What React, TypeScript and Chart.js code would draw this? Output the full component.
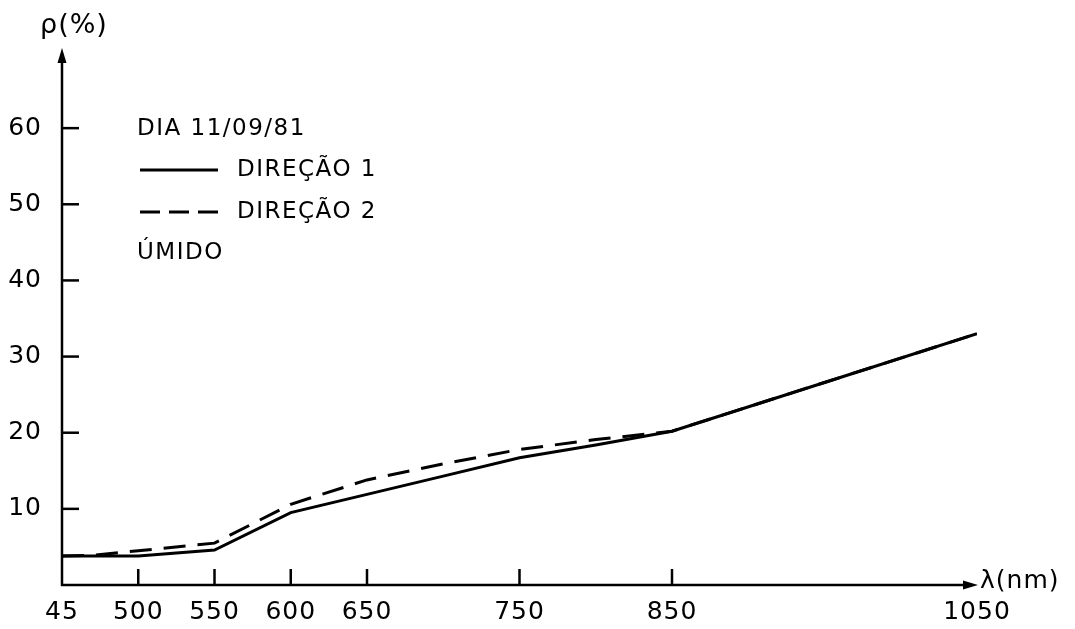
import React, { useEffect, useRef } from "react";
import { Chart, registerables } from "chart.js";

Chart.register(...registerables);

const wavelengths = [450, 500, 550, 600, 650, 700, 750, 800, 850, 950, 1050];
const direcao1 = [3.8, 3.8, 4.6, 9.5, 11.9, 14.3, 16.7, 18.4, 20.2, 26.6, 33.0];
const wavelengths2 = [450, 470, 500, 550, 600, 650, 700, 750, 800, 850, 950, 1050];
const direcao2 = [3.8, 3.9, 4.5, 5.5, 10.6, 13.8, 15.9, 17.8, 19.1, 20.2, 26.6, 33.0];
const xTickValues = [450, 500, 550, 600, 650, 750, 850, 1050];
const xTickLabels = ["45", "500", "550", "600", "650", "750", "850", "1050"];
const yTickValues = [10, 20, 30, 40, 50, 60];
const legendTitle = "DIA 11/09/81";
const seriesNames = ["DIREÇÃO 1", "DIREÇÃO 2"];
const legendNote = "ÚMIDO";
const yTitle = "ρ(%)";
const xTitle = "λ(nm)";

const FONT = "DejaVu Sans";

const axesPlugin = {
  id: "axesPlugin",
  beforeDraw(chart: any) {
    chart.ctx.letterSpacing = "1px";
  },
  afterDraw(chart: any) {
    const { ctx, chartArea } = chart;
    const xs = chart.scales.x;
    const ys = chart.scales.y;
    const x0 = xs.getPixelForValue(450);
    const y0 = ys.getPixelForValue(0);
    ctx.save();
    ctx.strokeStyle = "#000";
    ctx.fillStyle = "#000";
    ctx.lineWidth = 2.5;
    ctx.lineCap = "butt";
    // y axis
    const yTop = chartArea.top - 4;
    ctx.beginPath();
    ctx.moveTo(x0, y0 + 1);
    ctx.lineTo(x0, yTop + 12);
    ctx.stroke();
    ctx.beginPath();
    ctx.moveTo(x0, yTop);
    ctx.lineTo(x0 - 4.5, yTop + 15);
    ctx.lineTo(x0 + 4.5, yTop + 15);
    ctx.closePath();
    ctx.fill();
    // x axis
    const xEnd = xs.getPixelForValue(1050) + 1;
    ctx.beginPath();
    ctx.moveTo(x0 - 1, y0);
    ctx.lineTo(xEnd - 12, y0);
    ctx.stroke();
    ctx.beginPath();
    ctx.moveTo(xEnd, y0);
    ctx.lineTo(xEnd - 15, y0 - 4.5);
    ctx.lineTo(xEnd - 15, y0 + 4.5);
    ctx.closePath();
    ctx.fill();
    // ticks inward
    ctx.lineWidth = 2.5;
    xTickValues.forEach((v) => {
      if (v === 450 || v === 1050) return;
      const px = xs.getPixelForValue(v);
      ctx.beginPath();
      ctx.moveTo(px, y0);
      ctx.lineTo(px, y0 - 16);
      ctx.stroke();
    });
    yTickValues.forEach((v) => {
      const py = ys.getPixelForValue(v);
      ctx.beginPath();
      ctx.moveTo(x0, py);
      ctx.lineTo(x0 + 17, py);
      ctx.stroke();
    });
    // titles
    ctx.letterSpacing = "1px";
    ctx.font = `27px "${FONT}"`;
    ctx.textBaseline = "middle";
    ctx.textAlign = "left";
    ctx.fillText(yTitle, 40, 26);
    ctx.font = `25px "${FONT}"`;
    ctx.fillText(xTitle, xEnd + 2, y0 - 4);
    // legend
    ctx.letterSpacing = "1.5px";
    ctx.font = `23px "${FONT}"`;
    ctx.fillText(legendTitle, 137, 129);
    ctx.fillText(seriesNames[0], 237, 170);
    ctx.fillText(seriesNames[1], 237, 212);
    ctx.fillText(legendNote, 137, 253);
    ctx.lineWidth = 3;
    ctx.beginPath();
    ctx.moveTo(140, 170);
    ctx.lineTo(218, 170);
    ctx.stroke();
    ctx.setLineDash([20, 9]);
    ctx.beginPath();
    ctx.moveTo(140, 212);
    ctx.lineTo(218, 212);
    ctx.stroke();
    ctx.restore();
  },
};

export default function App() {
  const ref = useRef<HTMLCanvasElement | null>(null);
  useEffect(() => {
    if (!ref.current) return;
    const chart = new Chart(ref.current, {
      type: "line",
      data: {
        datasets: [
          {
            label: seriesNames[0],
            data: wavelengths.map((x, i) => ({ x, y: direcao1[i] })),
            borderColor: "#000",
            borderWidth: 3,
            pointRadius: 0,
            tension: 0,
            fill: false,
          },
          {
            label: seriesNames[1],
            data: wavelengths2.map((x, i) => ({ x, y: direcao2[i] })),
            borderColor: "#000",
            borderWidth: 3,
            borderDash: [22, 12],
            pointRadius: 0,
            tension: 0,
            fill: false,
          },
        ],
      },
      options: {
        animation: false,
        responsive: true,
        maintainAspectRatio: false,
        layout: { padding: { top: 52, right: 98, left: 0, bottom: 0 } },
        plugins: {
          legend: { display: false },
          tooltip: { enabled: false },
        },
        scales: {
          x: {
            type: "linear",
            min: 450,
            max: 1050,
            grid: { display: false, drawTicks: false },
            border: { display: false },
            afterBuildTicks: (scale: any) => {
              scale.ticks = xTickValues.map((v) => ({ value: v }));
            },
            afterFit: (scale: any) => {
              scale.height = 44;
            },
            ticks: {
              autoSkip: false,
              maxRotation: 0,
              padding: 12,
              color: "#000",
              font: { family: FONT, size: 25 },
              callback: (v: any) => xTickLabels[xTickValues.indexOf(Number(v))] ?? "",
            },
          },
          y: {
            type: "linear",
            min: 0,
            max: 70,
            grid: { display: false, drawTicks: false },
            border: { display: false },
            afterBuildTicks: (scale: any) => {
              scale.ticks = yTickValues.map((v) => ({ value: v }));
            },
            afterFit: (scale: any) => {
              scale.width = 62;
            },
            ticks: {
              padding: 20,
              color: "#000",
              font: { family: FONT, size: 25 },
            },
          },
        },
      },
      plugins: [axesPlugin],
    });
    return () => chart.destroy();
  }, []);
  return (
    <div style={{ position: "fixed", left: 0, top: 0, width: 1075, height: 629, background: "#fff" }}>
      <canvas ref={ref} />
    </div>
  );
}
